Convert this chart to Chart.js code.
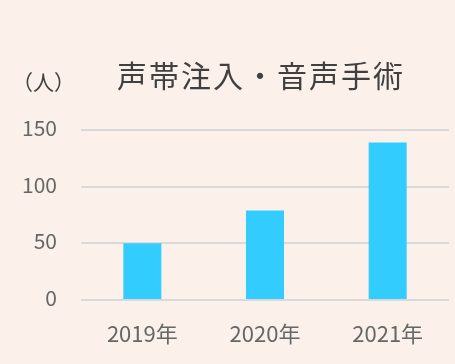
<!DOCTYPE html>
<html>
<head>
<meta charset="utf-8">
<script src="https://cdn.jsdelivr.net/npm/chart.js@4"></script>
<style>
  html, body { margin: 0; padding: 0; background: #fcf1ea; }
  #wrap { width: 455px; height: 364px; position: relative; }
</style>
</head>
<body>
<div id="wrap"><canvas id="chartCanvas"></canvas></div>
<script>
  // === Data ===
  const chartTitle = '声帯注入・音声手術';
  const unitLabel = '（人）';
  const years = ['2019年', '2020年', '2021年'];
  const patients = [50, 79, 139];
  const yTicks = [0, 50, 100, 150];

  const FONT = '"Noto Sans CJK JP", "Noto Sans", sans-serif';

  // title + unit label drawn above the plot
  const headerText = {
    id: 'headerText',
    afterDraw(chart) {
      const c = chart.ctx;
      const area = chart.chartArea;
      c.save();
      c.fillStyle = '#404040';
      c.textBaseline = 'middle';
      c.textAlign = 'center';
      c.font = '30px ' + FONT;
      c.letterSpacing = '2px';
      c.fillText(chartTitle, (area.left + area.right) / 2 - 4, 76);
      c.letterSpacing = '0px';
      c.textAlign = 'left';
      c.font = '21px ' + FONT;
      c.fillText(unitLabel, 12, 82);
      c.restore();
    }
  };

  const ctx = document.getElementById('chartCanvas').getContext('2d');
  new Chart(ctx, {
    type: 'bar',
    data: {
      labels: years,
      datasets: [{
        data: patients,
        backgroundColor: '#33ccff',
        borderWidth: 0,
        barPercentage: 0.31,
        categoryPercentage: 1
      }]
    },
    options: {
      responsive: true,
      maintainAspectRatio: false,
      animation: false,
      layout: { padding: { top: 130, right: 6, left: 0, bottom: 0 } },
      plugins: {
        legend: { display: false },
        title: { display: false },
        tooltip: { enabled: false }
      },
      scales: {
        x: {
          grid: { display: false, drawTicks: false },
          border: { display: false },
          ticks: { color: '#666', padding: 20, font: { family: FONT, size: 22 } },
          afterFit(s) { s.height = 64; }
        },
        y: {
          min: 0, max: 150,
          afterBuildTicks(s) { s.ticks = yTicks.map(v => ({ value: v })); },
          grid: { color: '#d9d9d9', lineWidth: 2, drawTicks: false },
          border: { display: false },
          ticks: { color: '#666', padding: 24, labelOffset: -2, font: { family: FONT, size: 21 } },
          afterFit(s) { s.width = 81; }
        }
      }
    },
    plugins: [headerText]
  });
</script>
</body>
</html>
